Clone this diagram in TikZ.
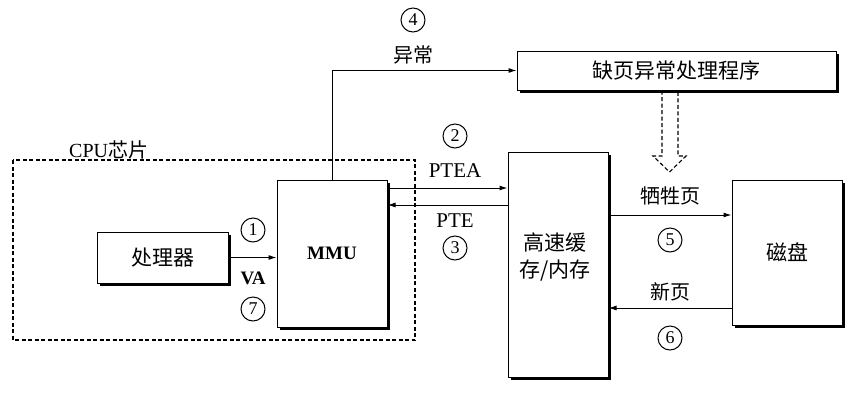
\documentclass[tikz,border=0pt]{standalone}
\usepackage{fontspec}
\setmainfont{Liberation Serif}
\newfontfamily\cjk{Noto Sans CJK SC}
\usetikzlibrary{arrows.meta,shadows}

\tikzset{
  box/.style={draw, fill=white, line width=1pt, font=\cjk\fontsize{21}{27}\selectfont,
    drop shadow={shadow xshift=3pt, shadow yshift=-3pt, opacity=1, fill=black}},
  num/.style={draw, circle, line width=1pt, inner sep=0pt, minimum size=24pt, font=\fontsize{18}{20}\selectfont},
  lbl/.style={font=\fontsize{20}{22}\selectfont},
  zh/.style={font=\cjk\fontsize{20}{22}\selectfont},
  arr/.style={-{Latex[length=8pt,width=5pt]}, line width=1pt},
  dashline/.style={dash pattern=on 4pt off 2.5pt, line width=1.1pt},
}

\begin{document}
\begin{tikzpicture}[x=1pt, y=-1pt]
  \useasboundingbox (0,0) rectangle (851,405);
  % CPU chip frame
  \draw[dashline] (13,160) rectangle (415,340);
  \node[lbl, anchor=south west, inner sep=1pt] (cpu) at (68,160) {CPU{\cjk 芯片}};

  % Boxes
  \node[box, minimum width=131, minimum height=51] (proc) at (162.5,257.5) {处理器};
  \node[box, minimum width=110, minimum height=147, font=\bfseries\fontsize{19}{22}\selectfont] (mmu) at (332,253.5) {MMU};
  \node[box, minimum width=319, minimum height=39] (handler) at (676.5,70.5) {缺页异常处理程序};
  \node[box, minimum width=100, minimum height=225, align=center] (cache) at (558,264.5) {};
  \node[zh, font=\cjk\fontsize{21}{27}\selectfont, align=center] (cachetxt) at (555,257) {高速缓\\存/内存};
  \node[box, minimum width=110, minimum height=145] (disk) at (787,252.5) {磁盘};

  % VA
  \draw[arr] (proc.east) -- (mmu.west |- proc.east);
  \node[num] (n1) at (253,230) {1};
  \node[lbl, font=\bfseries\fontsize{19}{22}\selectfont] (va) at (253,278) {VA};
  \node[num] (n7) at (253,309) {7};

  % exception
  \draw[arr] (mmu.north) |- (handler.west);
  \node[num] (n4) at (413,20) {4};
  \node[zh] (exc) at (413,55) {异常};

  % PTEA / PTE
  \draw[arr] (mmu.east |- 0,188) -- (cache.west |- 0,188);
  \draw[arr] (cache.west |- 0,205) -- (mmu.east |- 0,205);
  \node[num] (n2) at (455,136) {2};
  \node[lbl, font=\fontsize{21}{22}\selectfont] (ptea) at (455,171) {PTEA};
  \node[lbl, font=\fontsize{21}{22}\selectfont] (pte) at (455,221) {PTE};
  \node[num] (n3) at (455,248) {3};

  % pages
  \draw[arr] (cache.east |- 0,215) -- (disk.west |- 0,215);
  \draw[arr] (disk.west |- 0,308) -- (cache.east |- 0,308);
  \node[zh] (victim) at (670,196) {牺牲页};
  \node[num] (n5) at (670,240) {5};
  \node[zh] (newpg) at (670,292) {新页};
  \node[num] (n6) at (670,338) {6};

  % dashed hollow arrow from handler
  \draw[dashline] (handler.south -| 662,0) -- (662,156) -- (653,156) -- (669.5,172)
    -- (686,156) -- (678,156) -- (handler.south -| 678,0);
\end{tikzpicture}
\end{document}
